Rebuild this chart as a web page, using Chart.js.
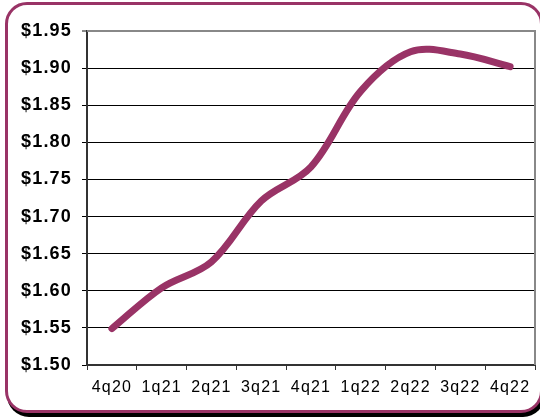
<!DOCTYPE html>
<html>
<head>
<meta charset="utf-8">
<script src="https://cdn.jsdelivr.net/npm/chart.js@4/dist/chart.umd.min.js"></script>
<style>
  html, body { margin: 0; padding: 0; background: #fff; overflow: hidden; }
  #frame {
    position: absolute; left: 5px; top: 2px; width: 538px; height: 411px;
    box-sizing: border-box; border: 3px solid #993366; border-radius: 22px;
    box-shadow: 2px 4px 0 #000; background: #fff;
  }
  #wrap { position: absolute; left: 0; top: 0; width: 540px; height: 419px; }
</style>
</head>
<body>
<div id="frame"></div>
<div id="wrap"><canvas id="chart" width="540" height="419"></canvas></div>
<script>
const quarters = ["4q20", "1q21", "2q21", "3q21", "4q21", "1q22", "2q22", "3q22", "4q22"];
const prices = [1.549, 1.604, 1.639, 1.721, 1.767, 1.869, 1.922, 1.919, 1.902];
const yMin = 1.5;
const yMax = 1.95;
const yStep = 0.05;

const maroon = "#993366";

// letter spacing for all labels + gray frame on top/right of the plot
const framePlugin = {
  id: "frame",
  beforeDraw: (chart) => {
    chart.ctx.letterSpacing = "1.2px";
  },
  beforeDatasetsDraw: (chart) => {
    let a = chart.chartArea;
    let ctx = chart.ctx;
    ctx.save();
    ctx.strokeStyle = "#888";
    ctx.lineWidth = 2;
    ctx.beginPath();
    ctx.moveTo(a.left, a.top);
    ctx.lineTo(a.right, a.top);
    ctx.lineTo(a.right, a.bottom);
    ctx.stroke();
    ctx.restore();
  },
};

const makeChart = () => {
  var ctx = document.getElementById("chart").getContext("2d");
  var myChart = new Chart(ctx, {
    type: "line",
    data: {
      labels: quarters,
      datasets: [
        {
          data: prices,
          borderColor: maroon,
          borderWidth: 7,
          borderCapStyle: "round",
          borderJoinStyle: "round",
          pointRadius: 0,
          fill: false,
          tension: 0.35,
        },
      ],
    },
    options: {
      responsive: false,
      animation: false,
      layout: { padding: { top: 31, right: 5, left: 0, bottom: 0 } },
      plugins: {
        legend: { display: false },
        tooltip: { enabled: false },
      },
      scales: {
        x: {
          offset: true,
          afterFit: (scale) => {
            scale.height = 54;
          },
          grid: {
            offset: true,
            drawOnChartArea: false,
            drawTicks: true,
            tickLength: 5,
            color: "#333",
          },
          border: { display: true, color: "#333", width: 2 },
          ticks: {
            color: "#000",
            padding: 8,
            maxRotation: 0,
            autoSkip: false,
            font: { family: "'Liberation Sans', Arial", size: 16 },
          },
        },
        y: {
          min: yMin,
          max: yMax,
          afterFit: (scale) => {
            scale.width = 87;
          },
          grid: {
            color: (c) => (c.index === c.chart.scales.y.ticks.length - 1 ? "#888" : "#000"),
            lineWidth: (c) => (c.index === c.chart.scales.y.ticks.length - 1 ? 2 : 1),
            tickLength: 5,
          },
          border: { display: true, color: "#333", width: 2 },
          ticks: {
            stepSize: yStep,
            padding: 10,
            color: "#000",
            font: { family: "'Liberation Sans', Arial", size: 18, weight: "bold" },
            callback: function (value) {
              return "$" + value.toFixed(2);
            },
          },
        },
      },
    },
    plugins: [framePlugin],
  });
};

makeChart();
</script>
</body>
</html>
